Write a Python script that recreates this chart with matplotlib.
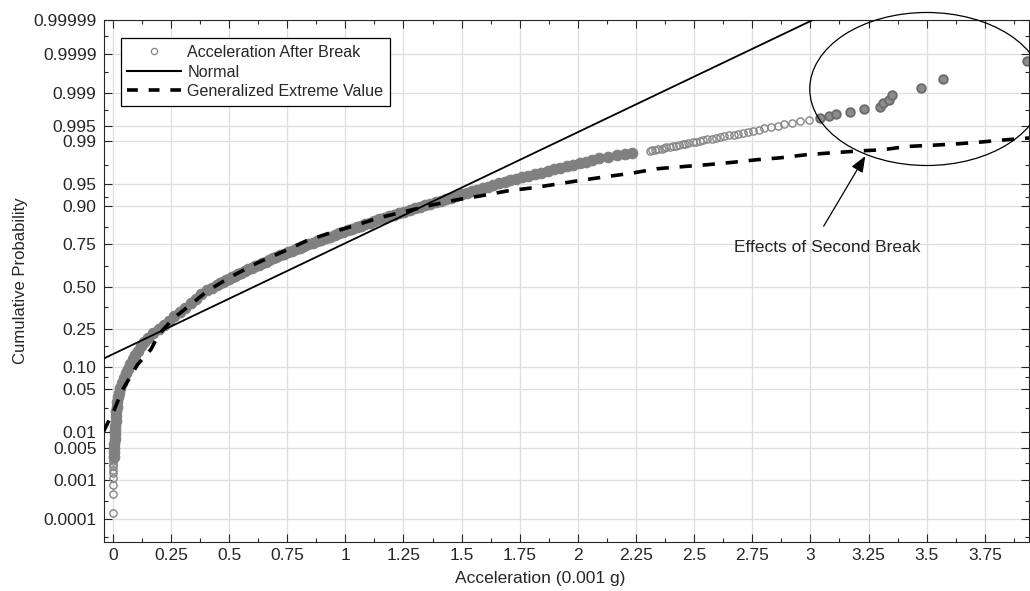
import math
import numpy as np
import matplotlib
matplotlib.use("Agg")
import matplotlib.pyplot as plt
from matplotlib.lines import Line2D
from matplotlib.patches import Ellipse
from matplotlib.ticker import FixedLocator, FixedFormatter, MultipleLocator

plt.rcParams['font.family'] = ['Liberation Sans', 'DejaVu Sans']

# ---- measured sample: acceleration (0.001 g) vs cumulative probability ----
# lowest few observations
acc_low = [0.000, 0.000, 0.001, 0.001, 0.002, 0.002, 0.002, 0.003, 0.003, 0.003]
prob_low = [0.00015, 0.00046, 0.00077, 0.0011, 0.0014, 0.0017, 0.0020, 0.0023, 0.0026, 0.0029]

# bulk of the sample (dense band)
acc_band = [
    0.004, 0.0055, 0.0064, 0.0071, 0.008, 0.0087, 0.0098, 0.0108, 0.012, 0.013,
    0.015, 0.017, 0.019, 0.022, 0.028, 0.033, 0.040, 0.048, 0.055, 0.065,
    0.076, 0.086, 0.097, 0.109, 0.121, 0.136, 0.152, 0.173, 0.198, 0.221,
    0.243, 0.265, 0.288, 0.311, 0.335, 0.358, 0.381, 0.405, 0.425,
    0.446, 0.460, 0.473, 0.486, 0.499, 0.513, 0.526, 0.539, 0.553, 0.568,
    0.583, 0.598, 0.613, 0.628, 0.643, 0.657, 0.672, 0.687, 0.703, 0.720,
    0.737, 0.755, 0.772, 0.789, 0.806, 0.823, 0.841, 0.860, 0.878, 0.897,
    0.916, 0.935, 0.954, 0.973, 0.991, 1.010, 1.029, 1.048, 1.067, 1.086,
    1.104, 1.123, 1.145, 1.166, 1.188, 1.209, 1.231, 1.254, 1.276, 1.298,
    1.321, 1.343, 1.365, 1.388, 1.410, 1.432, 1.455, 1.477, 1.500, 1.522,
    1.545, 1.567, 1.590, 1.612, 1.635, 1.659, 1.685, 1.710, 1.736, 1.761,
    1.787, 1.815, 1.842, 1.870, 1.897, 1.925, 1.952, 1.980, 2.007, 2.035,
    2.062, 2.092, 2.129, 2.167, 2.204, 2.233,
]
prob_band = [
    0.0032, 0.004, 0.005, 0.006, 0.0075, 0.009, 0.011, 0.013, 0.016, 0.019,
    0.023, 0.027, 0.032, 0.038, 0.045, 0.053, 0.062, 0.072, 0.083, 0.095,
    0.108, 0.122, 0.137, 0.153, 0.170, 0.188, 0.207, 0.227, 0.248, 0.270,
    0.293, 0.317, 0.342, 0.368, 0.395, 0.422, 0.450, 0.478, 0.494,
    0.5100, 0.5199, 0.5299, 0.5398, 0.5497, 0.5596, 0.5695, 0.5793, 0.5890, 0.5987,
    0.6083, 0.6179, 0.6274, 0.6368, 0.6462, 0.6554, 0.6646, 0.6736, 0.6826, 0.6915,
    0.7002, 0.7088, 0.7173, 0.7257, 0.7340, 0.7422, 0.7501, 0.7580, 0.7658, 0.7734,
    0.7808, 0.7881, 0.7953, 0.8023, 0.8092, 0.8159, 0.8225, 0.8289, 0.8352, 0.8413,
    0.8473, 0.8531, 0.8588, 0.8643, 0.8697, 0.8749, 0.8800, 0.8849, 0.8897, 0.8944,
    0.8989, 0.9032, 0.9074, 0.9115, 0.9154, 0.9192, 0.9229, 0.9265, 0.9299, 0.9332,
    0.9364, 0.9394, 0.9424, 0.9452, 0.9479, 0.9505, 0.9530, 0.9554, 0.9577, 0.9599,
    0.9620, 0.9641, 0.9660, 0.9678, 0.9696, 0.9713, 0.9729, 0.9744, 0.9759, 0.9772,
    0.9786, 0.9798, 0.9810, 0.9821, 0.9832, 0.9838,
]

# upper tail, before the second break
acc_upper = [2.31, 2.32, 2.33, 2.345, 2.36, 2.37, 2.38, 2.395, 2.41, 2.42,
             2.435, 2.45, 2.46, 2.475, 2.495, 2.51, 2.525, 2.54, 2.555, 2.575,
             2.595, 2.61, 2.63, 2.65, 2.67, 2.69, 2.71, 2.73, 2.755, 2.78,
             2.80, 2.83, 2.86, 2.885, 2.92, 2.955, 2.995]
prob_upper = [0.9852, 0.9855, 0.9858, 0.9861, 0.9864, 0.9867, 0.9870, 0.9873, 0.9876, 0.9879,
              0.9882, 0.9885, 0.9888, 0.9891, 0.9895, 0.9898, 0.9901, 0.9904, 0.9907, 0.9910,
              0.9913, 0.9916, 0.9919, 0.9922, 0.9925, 0.9928, 0.9931, 0.9934, 0.9937, 0.9940,
              0.9943, 0.9946, 0.9950, 0.9953, 0.9956, 0.9959, 0.9962]

# points affected by the second break
acc_tail = [3.04, 3.08, 3.11, 3.17, 3.23, 3.30, 3.31, 3.34, 3.35, 3.475, 3.57, 3.93]
prob_tail = [0.9965, 0.9968, 0.9971, 0.9974, 0.9977, 0.9980, 0.9983, 0.9986, 0.9989,
             0.99924, 0.99954, 0.99985]

# fitted distributions
norm_acc = [-0.04, 3.01]
norm_prob = [0.1245, 0.99999]

gev_acc = [-0.04, 0.006, 0.042, 0.106, 0.163, 0.199, 0.263, 0.321, 0.407, 0.507,
           0.622, 0.736, 0.837, 0.944, 1.052, 1.144, 1.266, 1.366, 1.481, 1.581,
           1.696, 1.804, 1.911, 2.011, 2.126, 2.24, 2.34, 2.455, 2.556, 2.67,
           2.77, 2.87, 2.985, 3.09, 3.21, 3.31, 3.415, 3.52, 3.62, 3.73, 3.845, 3.945]
gev_prob = [0.0102, 0.0244, 0.0495, 0.1056, 0.1562, 0.2236, 0.3085, 0.3707, 0.4721, 0.5616,
            0.6480, 0.7140, 0.7704, 0.8078, 0.8389, 0.8643, 0.8869, 0.9032, 0.9177, 0.9265,
            0.9370, 0.9429, 0.9495, 0.9554, 0.9608, 0.9656, 0.9703, 0.9726, 0.9744, 0.9767,
            0.9788, 0.9803, 0.9826, 0.9838, 0.9850, 0.9857, 0.9875, 0.9881, 0.9887, 0.9896,
            0.9906, 0.9913]

prob_ticks = [0.0001, 0.001, 0.005, 0.01, 0.05, 0.10, 0.25, 0.50, 0.75, 0.90,
              0.95, 0.99, 0.995, 0.999, 0.9999, 0.99999]
prob_labels = ['0.0001', '0.001', '0.005', '0.01', '0.05', '0.10', '0.25', '0.50',
               '0.75', '0.90', '0.95', '0.99', '0.995', '0.999', '0.9999', '0.99999']
prob_minor = [0.00003, 0.0003, 0.0024, 0.026, 0.075, 0.17, 0.37,
              0.63, 0.83, 0.925, 0.974, 0.9976, 0.9997, 0.99997]
acc_ticks = [0, 0.25, 0.5, 0.75, 1, 1.25, 1.5, 1.75, 2, 2.25, 2.5, 2.75, 3, 3.25, 3.5, 3.75]
acc_labels = ['0', '0.25', '0.5', '0.75', '1', '1.25', '1.5', '1.75', '2', '2.25',
              '2.5', '2.75', '3', '3.25', '3.5', '3.75']


# ---- normal probability axis (probit) ----
_A = [-3.969683028665376e+01, 2.209460984245205e+02, -2.759285104469687e+02,
      1.383577518672690e+02, -3.066479806614716e+01, 2.506628277459239e+00]
_B = [-5.447609879822406e+01, 1.615858368580409e+02, -1.556989798598866e+02,
      6.680131188771972e+01, -1.328068155288572e+01, 1.0]
_C = [-7.784894002430293e-03, -3.223964580411365e-01, -2.400758277161838e+00,
      -2.549732539343734e+00, 4.374664141464968e+00, 2.938163982698783e+00]
_D = [7.784695709041462e-03, 3.224671290700398e-01, 2.445134137142996e+00,
      3.754408661907416e+00, 1.0]


def probit(p):
    shape = np.shape(p)
    p = np.clip(np.atleast_1d(np.asarray(p, dtype=float)), 1e-12, 1 - 1e-12)
    z = np.empty_like(p)
    lo = p < 0.02425
    hi = p > 1 - 0.02425
    mid = ~(lo | hi)
    q = np.sqrt(-2 * np.log(p[lo]))
    z[lo] = np.polyval(_C, q) / np.polyval(_D, q)
    q = p[mid] - 0.5
    r = q * q
    z[mid] = np.polyval(_A, r) * q / np.polyval(_B, r)
    q = np.sqrt(-2 * np.log(1 - p[hi]))
    z[hi] = -np.polyval(_C, q) / np.polyval(_D, q)
    return z.reshape(shape)


_erfc = np.vectorize(math.erfc)


def norm_cdf(z):
    return 0.5 * _erfc(-np.asarray(z, dtype=float) / math.sqrt(2))


text_col = '#262626'
fig = plt.figure(figsize=(10.3, 5.91), dpi=100)
ax = fig.add_axes([103.5 / 1030, 1 - 541.5 / 591, 925.5 / 1030, 521.5 / 591])
ax.set_yscale('function', functions=(probit, norm_cdf))

# sample points
ax.plot(acc_low, prob_low, ls='none', marker='o', ms=5.2, mfc='none',
        mec='#858585', mew=1.0, zorder=2)
ax.plot(acc_band, prob_band, ls='none', marker='o', ms=7.6, mfc='#808080',
        mec='#808080', mew=0.8, zorder=2)
ax.plot(acc_upper, prob_upper, ls='none', marker='o', ms=5.2, mfc='none',
        mec='#858585', mew=1.0, zorder=2)
ax.plot(acc_tail, prob_tail, ls='none', marker='o', ms=6.2, mfc='#8c8c8c',
        mec='#6a6a6a', mew=1.3, zorder=2)

# fits
ax.plot(norm_acc, norm_prob, color='k', lw=1.3, zorder=3)
ax.plot(gev_acc, gev_prob, color='k', lw=2.6, ls=(0, (3.4, 3.0)), zorder=4)

ax.set_xlim(-0.04, 3.94)
ax.set_ylim(2.27e-5, 0.99999)

ax.xaxis.set_major_locator(FixedLocator(acc_ticks))
ax.xaxis.set_major_formatter(FixedFormatter(acc_labels))
ax.xaxis.set_minor_locator(MultipleLocator(0.125))
ax.yaxis.set_major_locator(FixedLocator(prob_ticks))
ax.yaxis.set_major_formatter(FixedFormatter(prob_labels))
ax.yaxis.set_minor_locator(FixedLocator(prob_minor))
ax.yaxis.set_minor_formatter(FixedFormatter([''] * len(prob_minor)))

ax.tick_params(which='both', direction='in', top=True, right=True,
               color=text_col, width=0.8, labelsize=12.5, labelcolor=text_col)
ax.tick_params(which='major', length=6, pad=5)
ax.tick_params(which='minor', length=3)

ax.grid(True, which='major', color='#dedede', lw=0.9)
ax.set_axisbelow(True)
for sp in ax.spines.values():
    sp.set_color(text_col)
    sp.set_linewidth(0.8)

ax.set_xlabel('Acceleration (0.001 g)', fontsize=12.5, color=text_col)
ax.xaxis.set_label_coords(0.472, -0.0566)
ax.set_ylabel('Cumulative Probability', fontsize=12, color=text_col)
ax.yaxis.set_label_coords(-0.0816, 0.5)

# highlight of the second break
ax.add_patch(Ellipse((0.8895, 0.8677), 0.2528, 0.2934, transform=ax.transAxes,
                     fill=False, ec='k', lw=0.9, clip_on=False, zorder=5))
ax.annotate('', xy=(3.236, 0.9816), xytext=(3.057, 0.8329),
            arrowprops=dict(arrowstyle='-|>,head_length=0.7,head_width=0.28',
                            mutation_scale=14, color='k', lw=0.9,
                            shrinkA=0, shrinkB=0), zorder=6)
ax.text(3.071, 0.7363, 'Effects of Second Break', ha='center', va='center',
        fontsize=12.5, color=text_col)

handles = [
    Line2D([], [], ls='none', marker='o', ms=4.5, mfc='none', mec='#858585', mew=0.9),
    Line2D([], [], color='k', lw=1.5),
    Line2D([], [], color='k', lw=2.6, ls=(0, (3.0, 3.0))),
]
leg = ax.legend(handles, ['Acceleration After Break', 'Normal', 'Generalized Extreme Value'],
                loc='upper left', bbox_to_anchor=(0.0186, 0.965), borderaxespad=0,
                fontsize=11.6, handlelength=3.3, handletextpad=0.42,
                labelspacing=0.28, borderpad=0.42, fancybox=False, framealpha=1)
leg.get_frame().set_edgecolor('k')
leg.get_frame().set_linewidth(0.9)
for t in leg.get_texts():
    t.set_color(text_col)

fig.savefig('out.png', dpi=100)
